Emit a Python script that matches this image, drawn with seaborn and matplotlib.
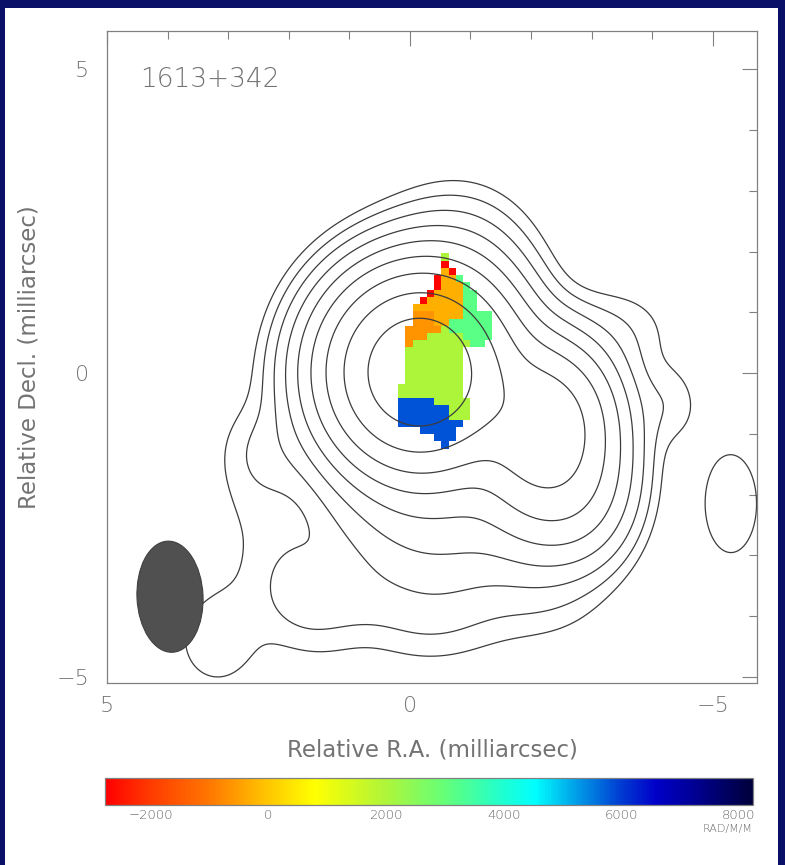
import matplotlib
matplotlib.use("Agg")
import matplotlib.pyplot as plt
from matplotlib.colors import LinearSegmentedColormap, Normalize
from matplotlib.patches import Ellipse, Rectangle
from matplotlib.ticker import MultipleLocator
import numpy as np
import seaborn as sns

source_name = "1613+342"

# total intensity model: gaussian components (RA, Dec offsets in mas, peak, widths)
comp_ra = [-0.15, -2.20, -2.25, -2.90, -0.45, -0.80, 1.90, 2.30, 2.60, 3.20,
           -0.30, -2.20, 1.50, 1.20, -4.30, -3.50, -5.30]
comp_dec = [0.02, -0.75, -1.60, -1.90, -2.00, 1.50, -3.45, -1.30, -2.20, -4.40,
            -4.10, -3.80, -4.30, -3.75, -0.50, 0.70, -2.15]
comp_peak = [463, 85, 35, 12, 12, 7.5, 1.8, 1.5, 0.9, 1.4,
             1.2, 0.9, 0.8, 1.3, 1.4, 1.4, 1.7]
comp_sig_ra = [0.77, 0.62, 0.60, 0.50, 1.05, 0.70, 0.38, 0.50, 0.50, 0.60,
               0.80, 0.70, 0.50, 0.60, 0.35, 0.60, 0.41]
comp_sig_dec = [0.80, 0.70, 0.80, 0.70, 1.00, 0.80, 0.50, 0.50, 1.20, 0.70,
                0.50, 0.50, 0.40, 0.40, 0.45, 0.50, 0.78]
contour_levels = [1, 2, 4, 8, 16, 32, 64, 128, 256]

# restoring beam
beam_ra, beam_dec = 3.96, -3.68
beam_width, beam_height, beam_angle = 1.09, 1.83, -2.6

# rotation measure pixels, top-left pixel corner and pixel size (mas)
rm_ra0, rm_dec0, rm_cell = 0.193, 1.969, 0.119
rm_rows = [
    "......g......",
    "......r......",
    "......or.....",
    ".....rool....",
    ".....roool...",
    "....rooooll..",
    "...roooooll..",
    "..oooooooll..",
    "..dddoooollll",
    "..dddoollllll",
    ".dddddgllllll",
    ".dddgggggllll",
    ".dggggggggll.",
    ".gggggggg....",
    ".gggggggg....",
    ".gggggggg....",
    ".gggggggg....",
    ".gggggggg....",
    "ggggggggg....",
    "ggggggggg....",
    "bbbbbggggg...",
    "bbbbbbbggg...",
    "bbbbbbbggg...",
    "bbbbbbbbb....",
    "...bbbbb.....",
    ".....bbb.....",
    "......b......",
]
rm_code_values = {"r": -2700, "d": -650, "o": -300, "g": 2000, "l": 3150, "b": 5800}

# colour table of the RM wedge
rm_min, rm_max = -2780, 8240
wedge_values = [-2780, -2000, -1000, 0, 770, 2000, 3000, 4000, 4550, 5000, 6000, 6600, 7000, 8000, 8240]
wedge_colors = ["#ff0000", "#ff3c00", "#ff7800", "#ffc800", "#ffff00", "#aef53a", "#64ff78",
                "#1effd2", "#00ffff", "#00beef", "#003cd2", "#0000c8", "#0000aa", "#000050", "#00003c"]
wedge_ticks = [-2000, 0, 2000, 4000, 6000, 8000]

sns.set_theme(style="white")
plt.rcParams["font.family"] = ["DejaVu Sans"]
plt.rcParams["font.weight"] = "light"
txt = "#737373"
edge = "#808080"

fig = plt.figure(figsize=(7.85, 8.65), dpi=100, facecolor="#0a1068")
fig.patches.append(Rectangle((5 / 785, 0), 773 / 785, 1 - 8 / 865, transform=fig.transFigure,
                             facecolor="white", edgecolor="none", zorder=-5))

ax = fig.add_axes([107 / 785, (865 - 683) / 865, 650 / 785, 652 / 865])
ax.set_facecolor("white")

# intensity map and contours
ra = np.linspace(5.4, -6.0, 520)
dec = np.linspace(-5.4, 5.9, 520)
RA, DEC = np.meshgrid(ra, dec)
flux = np.zeros_like(RA)
for x0, y0, a, sx, sy in zip(comp_ra, comp_dec, comp_peak, comp_sig_ra, comp_sig_dec):
    flux += a * np.exp(-0.5 * (((RA - x0) / sx) ** 2 + ((DEC - y0) / sy) ** 2))

# RM image
rm = np.array([[rm_code_values.get(ch, np.nan) for ch in row] for row in rm_rows])
rm_x_edges = rm_ra0 - rm_cell * np.arange(rm.shape[1] + 1)
rm_y_edges = rm_dec0 - rm_cell * np.arange(rm.shape[0] + 1)

cmap = LinearSegmentedColormap.from_list(
    "rm", [((v - rm_min) / (rm_max - rm_min), c) for v, c in zip(wedge_values, wedge_colors)])
norm = Normalize(vmin=rm_min, vmax=rm_max)

ax.pcolormesh(rm_x_edges, rm_y_edges, np.ma.masked_invalid(rm), cmap=cmap, norm=norm,
              shading="flat", zorder=1)
ax.contour(RA, DEC, flux, levels=contour_levels, colors="#3c3c3c", linewidths=0.9, zorder=2)

ax.add_patch(Ellipse((beam_ra, beam_dec), beam_width, beam_height, angle=beam_angle,
                     facecolor="#505050", edgecolor="#404040", linewidth=0.8, zorder=3))

ax.text(4.46, 4.83, source_name, ha="left", va="center", fontsize=19, color=txt)

ax.set_xlim(5.0, -5.73)
ax.set_ylim(-5.1, 5.63)
ax.xaxis.set_minor_locator(MultipleLocator(1))
ax.yaxis.set_minor_locator(MultipleLocator(1))
ax.set_xticks([5, 0, -5])
ax.set_xticklabels(["5", "0", "\u22125"])
ax.set_yticks([5, 0, -5])
ax.set_yticklabels(["5", "0", "\u22125"])
ax.tick_params(which="both", direction="in", top=True, right=True, color=edge, width=0.8,
               labelcolor=txt, labelsize=16)
ax.tick_params(which="major", length=11, pad=9)
ax.tick_params(axis="y", which="major", pad=13)
ax.tick_params(which="minor", length=6)
for s in ax.spines.values():
    s.set_color(edge)
    s.set_linewidth(0.9)
ax.set_xlabel("Relative R.A. (milliarcsec)", fontsize=16.5, color=txt)
ax.set_ylabel("Relative Decl. (milliarcsec)", fontsize=16.5, color=txt)
ax.xaxis.set_label_coords(0.5, -0.085)
ax.yaxis.set_label_coords(-0.103, 0.5)

# RM wedge
cax = fig.add_axes([105 / 785, (865 - 805) / 865, 648 / 785, 27 / 865])
sm = plt.cm.ScalarMappable(norm=norm, cmap=cmap)
cb = fig.colorbar(sm, cax=cax, orientation="horizontal", ticks=wedge_ticks)
cb.ax.xaxis.set_minor_locator(MultipleLocator(1000))
cb.ax.set_xticklabels(["\u22122000", "0", "2000", "4000", "6000", "8000"])
cb.ax.tick_params(which="both", direction="in", top=True, bottom=True, length=7, width=0.8,
                  color="#505050", labelcolor="#6a6a6a", labelsize=9.5, pad=3)
cb.outline.set_edgecolor(edge)
cb.outline.set_linewidth(0.9)
fig.text(753 / 785, 1 - 829 / 865, "RAD/M/M", ha="right", va="center", fontsize=8, color="#6a6a6a")

fig.savefig("out.png", dpi=100, facecolor=fig.get_facecolor())
